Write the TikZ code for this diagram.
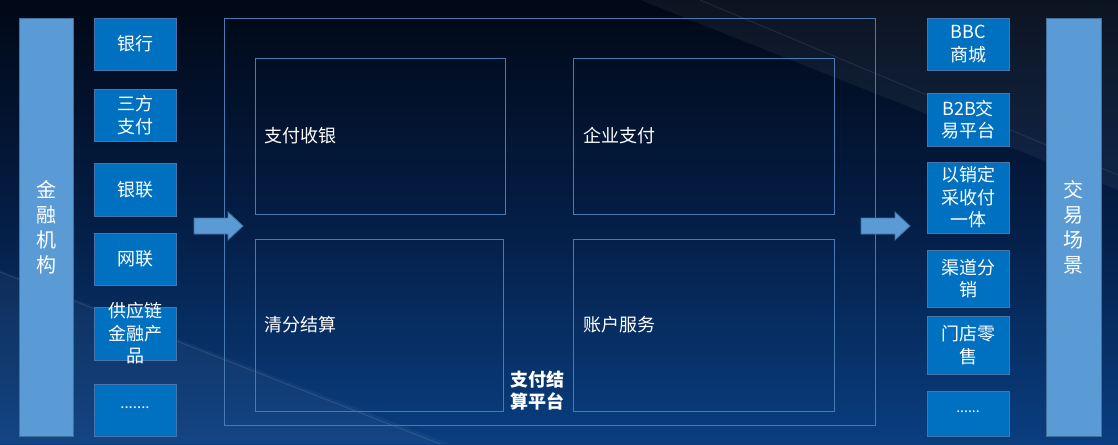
\documentclass[tikz,border=0pt]{standalone}
\usepackage{fontspec}
\newfontfamily\cjk{Noto Sans CJK SC}
\definecolor{bgtop}{RGB}{1,8,22}
\definecolor{bgmid}{RGB}{4,30,70}
\definecolor{bgbot}{RGB}{10,62,128}
\definecolor{boxfill}{RGB}{0,112,192}
\definecolor{boxline}{RGB}{72,116,170}
\definecolor{barfill}{RGB}{91,155,213}
\definecolor{barline}{RGB}{65,113,156}
\definecolor{frameline}{RGB}{74,122,180}
\tikzset{
  sbox/.style={draw=boxline, fill=boxfill, line width=0.9pt, inner sep=0pt, outer sep=0pt,
    minimum width=82pt, anchor=north west, text=white, align=center,
    font=\cjk\fontsize{18}{22.5}\selectfont},
  bar/.style={draw=barline, fill=barfill, line width=0.9pt, inner sep=0pt, outer sep=0pt,
    minimum width=54pt, minimum height=418pt, anchor=north west, text=white, align=center,
    font=\cjk\fontsize{20}{25}\selectfont},
  frame/.style={draw=frameline, line width=0.8pt, inner sep=0pt, outer sep=0pt, anchor=north west},
  lbl/.style={text=white, anchor=west, inner sep=0pt, font=\cjk\fontsize{18}{22}\selectfont},
  bigarrow/.style={draw=barline, fill=barfill, line width=0.8pt, line join=miter}
}
\begin{document}
\begin{tikzpicture}[x=1pt,y=-1pt]
\useasboundingbox (0,0) rectangle (1118,444);
% background
\shade[top color=bgtop, bottom color=bgbot, middle color=bgmid] (0,0) rectangle (1118,444);
\fill[white, opacity=0.04] (0,270) -- (450,444) -- (0,444) -- cycle;
\fill[white, opacity=0.05] (640,0) -- (1118,0) -- (1118,190) -- cycle;
\draw[white, opacity=0.10, line width=1pt] (0,272) -- (440,444);
\draw[white, opacity=0.08, line width=1pt] (700,0) -- (1118,175);

% left bar
\node[bar] (fin) at (19,18) {金\\融\\机\\构};
% left boxes
\node[sbox, minimum height=52pt] (bank) at (94,18) {银行};
\node[sbox, minimum height=52pt] (third) at (94,89) {三方\\支付};
\node[sbox, minimum height=53pt] (unionpay) at (94,163) {银联};
\node[sbox, minimum height=52pt] (netunion) at (94,233) {网联};
\node[sbox, minimum height=53pt] (scf) at (94,307) {};
\node[text=white, align=center, inner sep=0pt, font=\cjk\fontsize{18}{22.5}\selectfont] (scft) at (scf.center) {供应链\\金融产\\品};
\node[sbox, minimum height=52pt] (more1) at (94,384) {};
\node[text=white, inner sep=0pt, font=\cjk\fontsize{15}{18}\selectfont] (more1t) at ([yshift=2pt]more1.center) {.......};

% central frame
\node[frame, minimum width=651pt, minimum height=407pt] (platform) at (224,18) {};
\node[frame, minimum width=250pt, minimum height=156pt] (pay) at (255,58) {};
\node[frame, minimum width=261pt, minimum height=156pt] (corp) at (573,58) {};
\node[frame, minimum width=248pt, minimum height=172pt] (clear) at (255,239) {};
\node[frame, minimum width=261pt, minimum height=172pt] (acct) at (573,239) {};
\node[lbl] (payt) at (264,136) {支付收银};
\node[lbl] (corpt) at (583,136) {企业支付};
\node[lbl] (cleart) at (264,325) {清分结算};
\node[lbl] (acctt) at (583,325) {账户服务};
\node[text=white, align=center, inner sep=0pt, font=\cjk\bfseries\fontsize{18}{22}\selectfont] (platt) at (537,391) {支付结\\算平台};

% arrows
\coordinate (aL) at (194,226);
\draw[bigarrow] (aL) ++(0,-8) -- ++(34,0) -- ++(0,-6) -- ++(15,14) -- ++(-15,14) -- ++(0,-6) -- ++(-34,0) -- cycle;
\coordinate (aR) at (861,226);
\draw[bigarrow] (aR) ++(0,-8) -- ++(34,0) -- ++(0,-6) -- ++(15,14) -- ++(-15,14) -- ++(0,-6) -- ++(-34,0) -- cycle;

% right boxes
\node[sbox, minimum height=52pt] (bbc) at (927,18) {BBC\\商城};
\node[sbox, minimum height=53pt] (b2b) at (927,93) {B2B交\\易平台};
\node[sbox, minimum height=71pt] (sale) at (927,162) {以销定\\采收付\\一体};
\node[sbox, minimum height=57pt] (chan) at (927,250) {渠道分\\销};
\node[sbox, minimum height=58pt] (store) at (927,316) {门店零\\售};
\node[sbox, minimum height=45pt] (more2) at (927,391) {};
\node[text=white, inner sep=0pt, font=\cjk\fontsize{14}{18}\selectfont] (more2t) at ([yshift=2pt]more2.center) {......};

% right bar
\node[bar, minimum width=55pt] (scene) at (1046,18) {交\\易\\场\\景};
\end{tikzpicture}
\end{document}
